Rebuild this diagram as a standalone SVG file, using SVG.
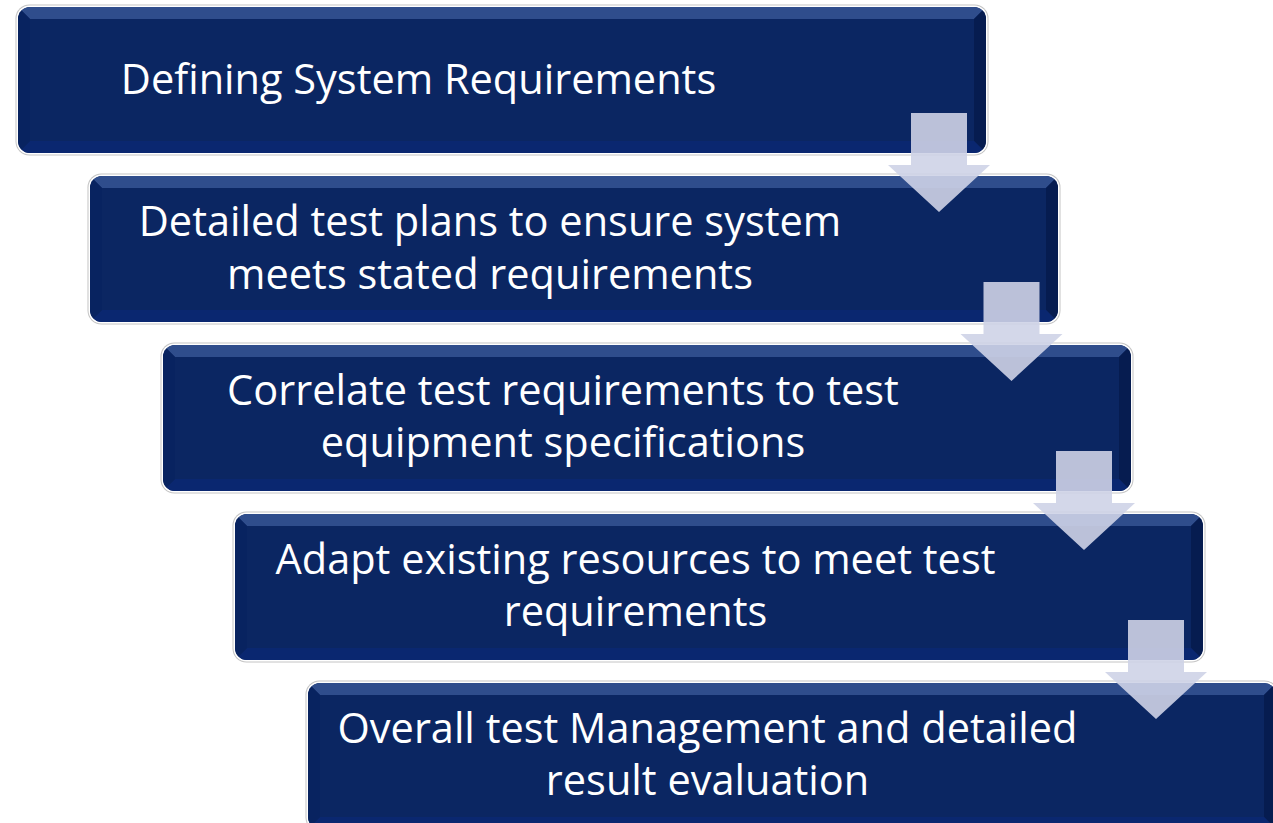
<svg xmlns="http://www.w3.org/2000/svg" xmlns:xlink="http://www.w3.org/1999/xlink" width="1273" height="823" viewBox="0 0 1273 823">
  <style>
    .lbl { font-family: "Open Sans", "Liberation Sans", sans-serif; font-size: 41.5px; fill: #ffffff; text-anchor: middle; }
    .arrow { fill: #ced3e7; fill-opacity: 0.9; }
  </style>
  <defs>
    <clipPath id="boxClip">
      <rect x="0" y="0" width="968" height="146" rx="12" ry="12"/>
    </clipPath>
    <g id="boxShape">
      <rect x="-2.5" y="-2.5" width="973" height="151" rx="14" ry="14" fill="#c4c4c4"/>
      <rect x="-1.5" y="-1.5" width="971" height="149" rx="13" ry="13" fill="#ffffff"/>
      <rect x="0" y="0" width="968" height="146" rx="12" ry="12" fill="#0b2662"/>
      <g clip-path="url(#boxClip)">
        <polygon points="0,0 968,0 956,12 12,12" fill="#2f4d8c"/>
        <polygon points="968,0 968,146 956,134 956,12" fill="#061c50"/>
        <polygon points="0,146 968,146 956,134 12,134" fill="#0a2770"/>
        <polygon points="0,0 12,12 12,134 0,146" fill="#082360"/>
      </g>
    </g>
    <polygon id="arrowShape" points="0,0 56,0 56,52 79,52 28,99 -23,52 0,52"/>
  </defs>

  <rect x="0" y="0" width="1273" height="823" fill="#ffffff"/>

  <g id="node1" transform="translate(18,7)">
    <use xlink:href="#boxShape"/>
    <text class="lbl" x="400.5" y="87">Defining System Requirements</text>
  </g>
  <g id="node2" transform="translate(90,176)">
    <use xlink:href="#boxShape"/>
    <text class="lbl" x="400" y="60">Detailed test plans to ensure system</text>
    <text class="lbl" x="400" y="113">meets stated requirements</text>
  </g>
  <g id="node3" transform="translate(163,345)">
    <use xlink:href="#boxShape"/>
    <text class="lbl" x="400" y="60">Correlate test requirements to test</text>
    <text class="lbl" x="400" y="112">equipment specifications</text>
  </g>
  <g id="node4" transform="translate(235,514)">
    <use xlink:href="#boxShape"/>
    <text class="lbl" x="400.5" y="60">Adapt existing resources to meet test</text>
    <text class="lbl" x="400.5" y="112">requirements</text>
  </g>
  <g id="node5" transform="translate(308,683)">
    <use xlink:href="#boxShape"/>
    <text class="lbl" x="399.5" y="60">Overall test Management and detailed</text>
    <text class="lbl" x="399.5" y="112">result evaluation</text>
  </g>

  <g id="connectors">
    <use class="arrow" xlink:href="#arrowShape" x="911" y="113"/>
    <use class="arrow" xlink:href="#arrowShape" x="983.5" y="282"/>
    <use class="arrow" xlink:href="#arrowShape" x="1056" y="451"/>
    <use class="arrow" xlink:href="#arrowShape" x="1128" y="620"/>
  </g>
</svg>
